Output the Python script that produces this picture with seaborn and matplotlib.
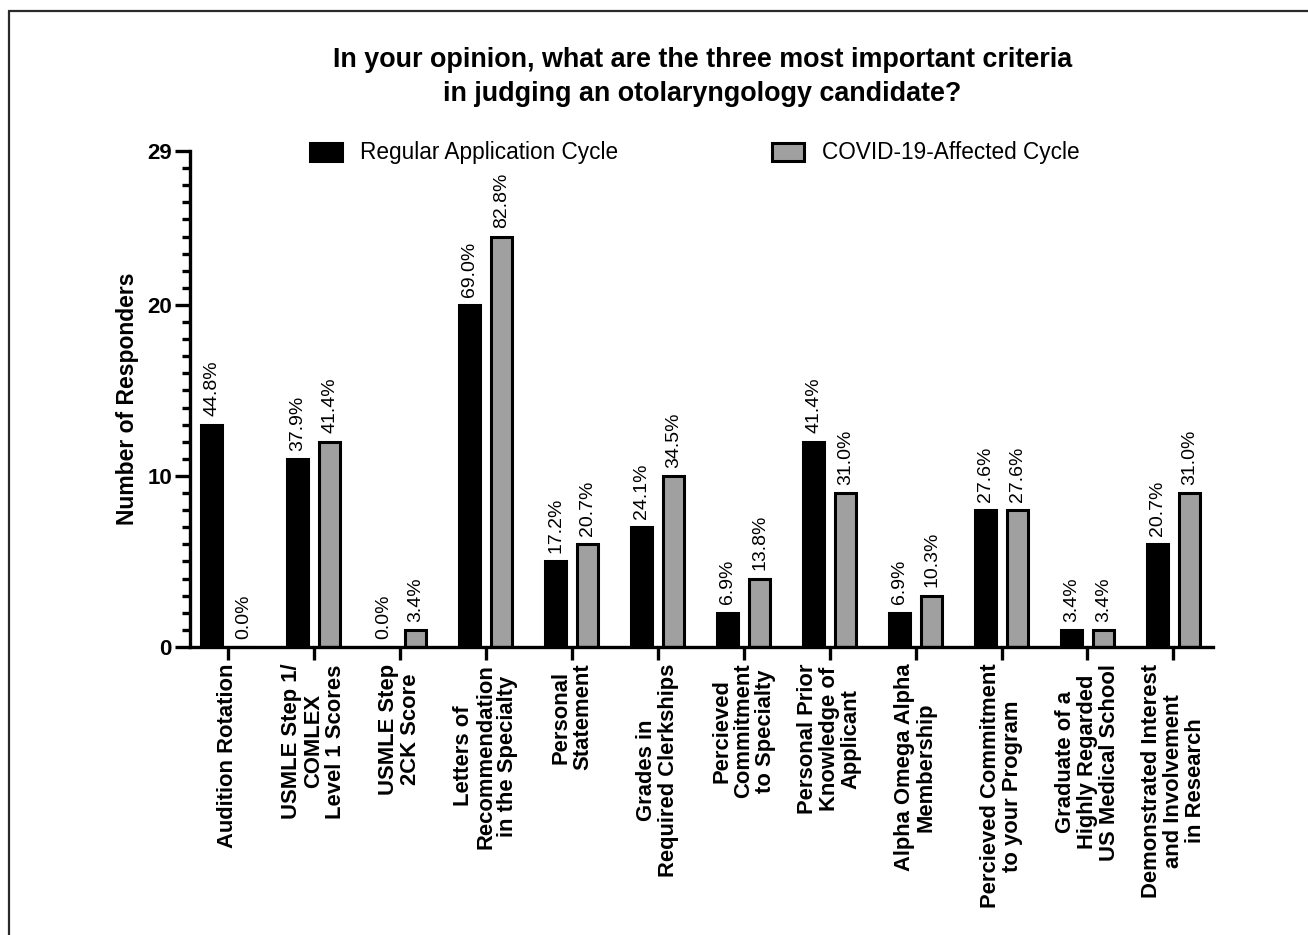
import matplotlib
matplotlib.use("Agg")
import matplotlib.pyplot as plt
from matplotlib.ticker import MultipleLocator, FixedLocator
from matplotlib.lines import Line2D
import seaborn as sns
import pandas as pd

categories = [
    "Audition Rotation",
    "USMLE Step 1/\nCOMLEX\nLevel 1 Scores",
    "USMLE Step\n2CK Score",
    "Letters of\nRecommendation\nin the Specialty",
    "Personal\nStatement",
    "Grades in\nRequired Clerkships",
    "Percieved\nCommitment\nto Specialty",
    "Personal Prior\nKnowledge of\nApplicant",
    "Alpha Omega Alpha\nMembership",
    "Percieved Commitment\nto your Program",
    "Graduate of a\nHighly Regarded\nUS Medical School",
    "Demonstrated Interest\nand Involvement\nin Research",
]
regular = [13, 11, 0, 20, 5, 7, 2, 12, 2, 8, 1, 6]
covid = [0, 12, 1, 24, 6, 10, 4, 9, 3, 8, 1, 9]
series_names = ["Regular Application Cycle", "COVID-19-Affected Cycle"]
total_responders = 29
y_ticks = [0, 10, 20, 29]

df = pd.DataFrame({
    "criterion": categories * 2,
    "count": regular + covid,
    "cycle": [series_names[0]] * len(categories) + [series_names[1]] * len(categories),
})

sns.set_style("white")
plt.rcParams["font.family"] = ["Liberation Sans", "DejaVu Sans"]
plt.rcParams["text.color"] = "black"
plt.rcParams["axes.labelcolor"] = "black"
plt.rcParams["xtick.color"] = "black"
plt.rcParams["ytick.color"] = "black"

fig = plt.figure(figsize=(13.08, 9.35), dpi=100)
ax = fig.add_axes([190 / 1308, 1 - 647 / 935, (1213 - 190) / 1308, (647 - 151) / 935])

sns.barplot(data=df, x="criterion", y="count", hue="cycle", order=categories,
            hue_order=series_names, palette=["black", "#a0a0a0"],
            edgecolor="black", linewidth=2.2, width=0.744, gap=0.345,
            saturation=1, ax=ax, legend=True)

for cont, vals in zip(ax.containers, [regular, covid]):
    labels = [f"{v / total_responders * 100:.1f}%" for v in vals]
    ax.bar_label(cont, labels=labels, rotation=90, padding=6, fontsize=14)

ax.set_xlim(-0.44, 11.46)
ax.set_ylim(0, total_responders)
ax.yaxis.set_major_locator(FixedLocator(y_ticks))
ax.yaxis.set_minor_locator(MultipleLocator(1))
ax.set_yticklabels([str(t) for t in y_ticks], fontsize=16, fontweight="bold")
ax.set_xticks(range(len(categories)))
ax.set_xticklabels(categories, rotation=90, ha="center", va="top",
                   multialignment="center", fontsize=15.8, fontweight="bold",
                   linespacing=1.05)
ax.set_xlabel("")
ax.set_ylabel("Number of Responders", fontsize=16.5, fontweight="bold", labelpad=6)

for s in ["top", "right"]:
    ax.spines[s].set_visible(False)
for s in ["left", "bottom"]:
    ax.spines[s].set_linewidth(2.4)
    ax.spines[s].set_color("black")
ax.tick_params(axis="y", which="major", length=11, width=2.4, left=True, pad=2)
ax.tick_params(axis="y", which="minor", length=6, width=2.4, left=True)
ax.tick_params(axis="x", which="major", length=9, width=2.4, bottom=True, pad=3)

leg = ax.legend(loc="upper left", bbox_to_anchor=(290 / 1308, 1 - 121 / 935),
                bbox_transform=fig.transFigure, ncol=2, frameon=False,
                fontsize=16.3, handlelength=1.4, handleheight=0.85,
                columnspacing=6.8, handletextpad=0.8)
for t in leg.get_texts():
    t.set_color("black")

fig.suptitle("In your opinion, what are the three most important criteria\n"
             "in judging an otolaryngology candidate?",
             x=0.537, y=1 - 47 / 935, va="top", fontsize=19.4, fontweight="bold",
             linespacing=1.38)

fig.add_artist(Line2D([8.5 / 1308, 8.5 / 1308], [0, 1 - 10.5 / 935],
                      transform=fig.transFigure, color="#2a2a2a", lw=1.6))
fig.add_artist(Line2D([8.5 / 1308, 1], [1 - 10.5 / 935, 1 - 10.5 / 935],
                      transform=fig.transFigure, color="#2a2a2a", lw=1.6))

fig.savefig("out.png", dpi=100, facecolor="white")
